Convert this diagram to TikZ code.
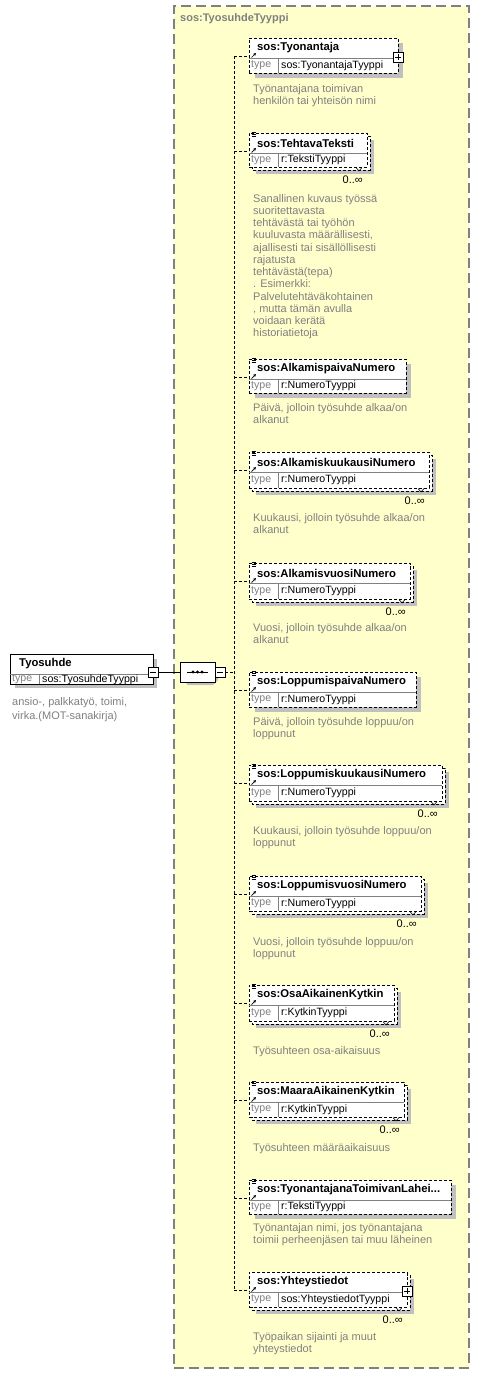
\documentclass[tikz,border=0pt]{standalone}
\usepackage{fontspec}
\setmainfont{Liberation Sans}
\usetikzlibrary{arrows.meta,shapes.misc}
\definecolor{bgy}{RGB}{255,255,204}
\definecolor{txg}{RGB}{128,128,128}
\definecolor{shg}{RGB}{192,192,192}
\tikzset{
  conn/.style={line width=0.9pt, dash pattern=on 3pt off 2pt},
  elline/.style={line width=0.9pt, dash pattern=on 3pt off 2pt},
  elnode/.style={draw, elline, fill=white, anchor=north west, inner sep=0pt, outer sep=0pt},
  nametext/.style={font=\bfseries\fontsize{11.3}{13}\selectfont, anchor=west, inner sep=0pt},
  typelbl/.style={font=\fontsize{10.6}{13}\selectfont, text=txg, anchor=west, inner sep=0pt},
  typeval/.style={font=\fontsize{10.6}{13}\selectfont, anchor=west, inner sep=0pt},
  desc/.style={text=txg, anchor=base west, inner sep=0pt},
  multlbl/.style={font=\fontsize{11}{13}\selectfont, anchor=east, inner sep=0pt},
  minusbox/.style={draw, line width=0.8pt, fill=white, minimum size=10pt, inner sep=0pt,
    path picture={\draw[line width=0.8pt] ([xshift=2pt]path picture bounding box.west) -- ([xshift=-2pt]path picture bounding box.east);}},
  plusbox/.style={draw, line width=0.8pt, fill=white, minimum size=10pt, inner sep=0pt,
    path picture={\draw[line width=0.8pt] ([xshift=2pt]path picture bounding box.west) -- ([xshift=-2pt]path picture bounding box.east);
      \draw[line width=0.8pt] ([yshift=-2pt]path picture bounding box.north) -- ([yshift=2pt]path picture bounding box.south);}},
  seqnode/.style={draw, line width=0.8pt, fill=white, chamfered rectangle, chamfered rectangle xsep=5pt,
    minimum width=35pt, minimum height=20pt, inner sep=0pt}
}
\newcommand\dtext[2]{\parbox[t]{230pt}{\raggedright\fontsize{11}{#1}\selectfont #2}}
% #1 id, #2 top, #3 right, #4 bottom, #5 name, #6 type, #7 multi, #8 plus, #9 doc icon
\newcommand\elem[9]{%
  \ifnum#7=1
    \fill[shg] (256,#2+7) rectangle (#3+7,#4+7);
    \draw[elline, fill=white] (252,#2+3) rectangle (#3+3,#4+3);
  \else
    \fill[shg] (255,#2+5) rectangle (#3+5,#4+5);
  \fi
  \node[elnode, minimum width=#3pt-249pt, minimum height=#4pt-#2pt] (#1) at (249,#2) {};
  \draw[line width=0.6pt, txg] (249,#2+20) -- (#3,#2+20);
  \draw[line width=0.6pt, txg] (278,#2+20) -- (278,#4);
  \node[nametext] (#1n) at (257,#2+10) {#5};
  \node[typelbl] (#1t) at (251,{(#2+20+#4)/2}) {type};
  \node[typeval] (#1v) at (281,{(#2+20+#4)/2}) {#6};
  \draw[line width=0.7pt, -{Stealth[length=3pt,width=3pt]}] (251.5,#2+19.5) -- (256,#2+15);
  \ifnum#9=1
    \draw[line width=0.6pt] (251.5,#2-1) -- (256,#2-1) (251.5,#2+1) -- (256,#2+1) (251.5,#2+3) -- (256,#2+3);
  \fi
  \ifnum#7=1
    \draw[line width=0.6pt] (#3-11,#4+0.5) -- (#3-8,#4+4) -- (#3-5,#4+0.5);
    \node[multlbl] (#1m) at (#3-4,#4+13) {0..∞};
  \fi
  \ifnum#8=1
    \node[plusbox] (#1p) at (#3,#2+19) {};
  \fi
  \coordinate (#1c) at (234,#2+18);
  \draw[conn] (#1c) -- (#1c -| #1.west);
}
\begin{document}
\begin{tikzpicture}[x=1pt,y=-1pt]
\useasboundingbox (0,0) rectangle (479,1373);
% complex type container
\node[draw=txg, line width=1.5pt, dash pattern=on 10pt off 5pt, fill=bgy, anchor=north west,
  minimum width=295pt, minimum height=1362pt, inner sep=0pt] (ct) at (173,5) {};
\node[font=\bfseries\fontsize{11}{13}\selectfont, text=txg, anchor=west, inner sep=0pt] (cttitle) at (180,19) {sos:TyosuhdeTyyppi};

% root element
\fill[shg] (15,659) rectangle (157,688);
\node[draw, line width=0.9pt, fill=white, anchor=north west, minimum width=143pt, minimum height=30pt, inner sep=0pt] (root) at (10,654) {};
\draw[line width=0.6pt, txg] (10,674) -- (153,674);
\draw[line width=0.6pt, txg] (39,674) -- (39,684);
\node[nametext] (rootn) at (19,664) {Tyosuhde};
\node[typelbl] (roott) at (12,679.5) {type};
\node[typeval] (rootv) at (42,679.5) {sos:TyosuhdeTyyppi};
\node[desc] (rootd) at (12,705) {\dtext{14.5}{ansio-, palkkatyö, toimi,\\virka.(MOT-sanakirja)}};
\node[minusbox] (rootm) at (153,672) {};

% sequence compositor
\fill[shg] (188,665) -- (213,665) -- (218,670) -- (218,680) -- (213,685) -- (188,685) -- (183,680) -- (183,670) -- cycle;
\node[seqnode] (seq) at (197.5,672) {};
\draw[line width=0.8pt] (187,672) -- (208,672);
\foreach \xx in {193,197.5,202} \fill (\xx,672) circle (1.6pt);
\node[minusbox] (seqm) at (220,672) {};
\draw[line width=0.8pt] (rootm.east) -- (seq.west);
\coordinate (trunkmid) at (234,672);
\draw[conn] (seqm.east) -- (trunkmid);

% elements
\elem{e1}{38}{398}{73}{sos:Tyonantaja}{sos:TyonantajaTyyppi}{0}{1}{0}
\elem{e2}{133}{367}{167}{sos:TehtavaTeksti}{r:TekstiTyyppi}{1}{0}{1}
\elem{e3}{359}{406}{393}{sos:AlkamispaivaNumero}{r:NumeroTyyppi}{0}{0}{1}
\elem{e4}{452}{429}{488}{sos:AlkamiskuukausiNumero}{r:NumeroTyyppi}{1}{0}{1}
\elem{e5}{563}{410}{599}{sos:AlkamisvuosiNumero}{r:NumeroTyyppi}{1}{0}{1}
\elem{e6}{672}{416}{707}{sos:LoppumispaivaNumero}{r:NumeroTyyppi}{0}{0}{1}
\elem{e7}{765}{442}{801}{sos:LoppumiskuukausiNumero}{r:NumeroTyyppi}{1}{0}{1}
\elem{e8}{876}{421}{911}{sos:LoppumisvuosiNumero}{r:NumeroTyyppi}{1}{0}{1}
\elem{e9}{985}{394}{1021}{sos:OsaAikainenKytkin}{r:KytkinTyyppi}{1}{0}{1}
\elem{e10}{1082}{404}{1117}{sos:MaaraAikainenKytkin}{r:KytkinTyyppi}{1}{0}{1}
\elem{e11}{1180}{451}{1214}{sos:TyonantajanaToimivanLahei...}{r:TekstiTyyppi}{0}{0}{1}
\elem{e12}{1272}{407}{1307}{sos:Yhteystiedot}{sos:YhteystiedotTyyppi}{1}{1}{0}

\draw[conn] (e1c) -- (e12c);

% descriptions
\node[desc] (d1) at (253,92) {\dtext{12.5}{Työnantajana toimivan\\henkilön tai yhteisön nimi}};
\node[desc] (d2) at (253,202) {\dtext{12.25}{Sanallinen kuvaus työssä\\suoritettavasta\\tehtävästä tai työhön\\kuuluvasta määrällisesti,\\ajallisesti tai sisällöllisesti\\rajatusta\\tehtävästä(tepa)\\. Esimerkki:\\Palvelutehtäväkohtainen\\, mutta tämän avulla\\voidaan kerätä\\historiatietoja}};
\node[desc] (d3) at (253,411) {\dtext{12.7}{Päivä, jolloin työsuhde alkaa/on\\alkanut}};
\node[desc] (d4) at (253,521) {\dtext{12.7}{Kuukausi, jolloin työsuhde alkaa/on\\alkanut}};
\node[desc] (d5) at (253,631) {\dtext{12.7}{Vuosi, jolloin työsuhde alkaa/on\\alkanut}};
\node[desc] (d6) at (253,725) {\dtext{12.7}{Päivä, jolloin työsuhde loppuu/on\\loppunut}};
\node[desc] (d7) at (253,834) {\dtext{12.7}{Kuukausi, jolloin työsuhde loppuu/on\\loppunut}};
\node[desc] (d8) at (253,945) {\dtext{12.7}{Vuosi, jolloin työsuhde loppuu/on\\loppunut}};
\node[desc] (d9) at (253,1054) {\dtext{12.7}{Työsuhteen osa-aikaisuus}};
\node[desc] (d10) at (253,1151) {\dtext{12.7}{Työsuhteen määräaikaisuus}};
\node[desc] (d11) at (253,1231) {\dtext{12.7}{Työnantajan nimi, jos työnantajana\\toimii perheenjäsen tai muu läheinen}};
\node[desc] (d12) at (253,1340) {\dtext{12.7}{Työpaikan sijainti ja muut\\yhteystiedot}};
\end{tikzpicture}
\end{document}
